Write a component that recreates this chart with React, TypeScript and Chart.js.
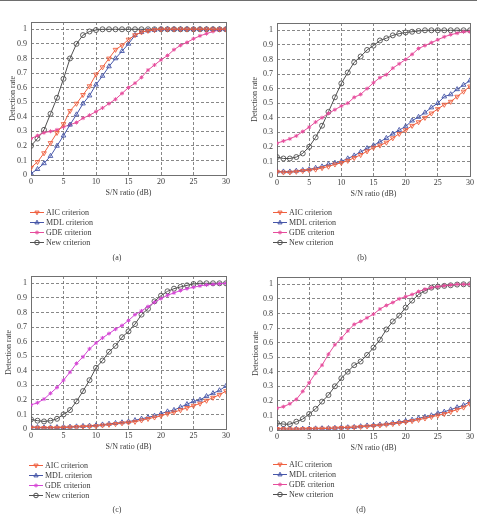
import React, { useEffect, useRef } from 'react';
import { Chart, registerables } from 'chart.js';
Chart.register(...registerables);

const SNR = [0, 1, 2, 3, 4, 5, 6, 7, 8, 9, 10, 11, 12, 13, 14, 15, 16, 17, 18, 19, 20, 21, 22, 23, 24, 25, 26, 27, 28, 29, 30];
const Y_TICKS = [0, 0.1, 0.2, 0.3, 0.4, 0.5, 0.6, 0.7, 0.8, 0.9, 1];
const X_TICKS = [0, 5, 10, 15, 20, 25, 30];
const SERIES_NAMES = ['AIC criterion', 'MDL criterion', 'GDE criterion', 'New criterion'];
const CAPTIONS = ['(a)', '(b)', '(c)', '(d)'];

const A_AIC = [0.05, 0.09, 0.15, 0.22, 0.29, 0.35, 0.44, 0.49, 0.55, 0.61, 0.69, 0.74, 0.8, 0.86, 0.89, 0.93, 0.96, 0.98, 0.99, 0.995, 1, 1, 1, 1, 1, 1, 1, 1, 1, 1, 1];
const A_MDL = [0.01, 0.04, 0.08, 0.13, 0.2, 0.27, 0.345, 0.415, 0.49, 0.545, 0.62, 0.68, 0.745, 0.8, 0.85, 0.9, 0.96, 0.98, 0.99, 0.995, 1, 1, 1, 1, 1, 1, 1, 1, 1, 1, 1];
const A_GDE = [0.25, 0.27, 0.29, 0.3, 0.31, 0.33, 0.345, 0.36, 0.39, 0.41, 0.435, 0.46, 0.49, 0.52, 0.56, 0.6, 0.63, 0.67, 0.72, 0.755, 0.79, 0.82, 0.86, 0.89, 0.91, 0.935, 0.955, 0.97, 0.985, 0.995, 1];
const A_NEW = [0.2, 0.25, 0.31, 0.42, 0.53, 0.66, 0.8, 0.9, 0.96, 0.985, 0.995, 1, 1, 1, 1, 1, 1, 1, 1, 1, 1, 1, 1, 1, 1, 1, 1, 1, 1, 1, 1];

const B_AIC = [0.03, 0.025, 0.025, 0.03, 0.035, 0.04, 0.045, 0.055, 0.065, 0.08, 0.09, 0.105, 0.125, 0.145, 0.17, 0.195, 0.21, 0.23, 0.26, 0.29, 0.315, 0.345, 0.37, 0.4, 0.43, 0.46, 0.49, 0.51, 0.545, 0.58, 0.615];
const B_MDL = [0.03, 0.03, 0.03, 0.035, 0.04, 0.045, 0.055, 0.065, 0.08, 0.09, 0.1, 0.12, 0.14, 0.165, 0.19, 0.21, 0.235, 0.26, 0.29, 0.315, 0.34, 0.38, 0.405, 0.435, 0.47, 0.5, 0.545, 0.56, 0.595, 0.625, 0.655];
const B_GDE = [0.225, 0.24, 0.255, 0.275, 0.305, 0.335, 0.37, 0.4, 0.43, 0.455, 0.48, 0.5, 0.54, 0.56, 0.6, 0.64, 0.675, 0.695, 0.74, 0.77, 0.8, 0.835, 0.875, 0.895, 0.915, 0.935, 0.955, 0.97, 0.98, 0.99, 0.99];
const B_NEW = [0.13, 0.12, 0.12, 0.13, 0.155, 0.2, 0.265, 0.345, 0.44, 0.54, 0.635, 0.71, 0.78, 0.82, 0.865, 0.895, 0.93, 0.945, 0.965, 0.977, 0.985, 0.99, 0.995, 1, 1, 1, 1, 1, 1, 1, 1];

const C_AIC = [0.01, 0.009, 0.008, 0.008, 0.009, 0.01, 0.012, 0.014, 0.016, 0.018, 0.02, 0.025, 0.03, 0.035, 0.04, 0.045, 0.05, 0.06, 0.07, 0.08, 0.09, 0.105, 0.115, 0.13, 0.145, 0.16, 0.175, 0.195, 0.215, 0.235, 0.26];
const C_MDL = [0.015, 0.012, 0.01, 0.01, 0.012, 0.013, 0.015, 0.017, 0.02, 0.022, 0.025, 0.03, 0.035, 0.04, 0.045, 0.05, 0.06, 0.07, 0.08, 0.09, 0.105, 0.12, 0.13, 0.15, 0.17, 0.19, 0.2, 0.225, 0.245, 0.265, 0.295];
const C_GDE = [0.165, 0.18, 0.205, 0.245, 0.285, 0.335, 0.39, 0.45, 0.495, 0.55, 0.59, 0.625, 0.655, 0.685, 0.71, 0.745, 0.785, 0.81, 0.84, 0.87, 0.895, 0.918, 0.934, 0.95, 0.963, 0.973, 0.982, 0.989, 0.993, 0.997, 1];
const C_NEW = [0.066, 0.057, 0.052, 0.057, 0.07, 0.1, 0.13, 0.19, 0.26, 0.335, 0.42, 0.47, 0.53, 0.57, 0.63, 0.67, 0.72, 0.785, 0.825, 0.876, 0.915, 0.945, 0.963, 0.975, 0.986, 0.995, 1, 1, 1, 1, 1];

const D_AIC = [0.008, 0.007, 0.006, 0.006, 0.007, 0.008, 0.009, 0.01, 0.011, 0.013, 0.015, 0.017, 0.019, 0.022, 0.025, 0.028, 0.032, 0.037, 0.042, 0.048, 0.055, 0.062, 0.07, 0.08, 0.09, 0.1, 0.11, 0.125, 0.14, 0.155, 0.18];
const D_MDL = [0.01, 0.008, 0.007, 0.007, 0.008, 0.009, 0.01, 0.011, 0.012, 0.014, 0.016, 0.018, 0.02, 0.025, 0.03, 0.033, 0.037, 0.042, 0.048, 0.055, 0.062, 0.07, 0.08, 0.09, 0.1, 0.115, 0.125, 0.14, 0.155, 0.17, 0.195];
const D_GDE = [0.15, 0.16, 0.18, 0.21, 0.265, 0.325, 0.39, 0.445, 0.52, 0.585, 0.63, 0.68, 0.725, 0.745, 0.77, 0.795, 0.83, 0.855, 0.875, 0.9, 0.915, 0.93, 0.95, 0.966, 0.977, 0.984, 0.99, 0.995, 1, 1, 1];
const D_NEW = [0.048, 0.04, 0.04, 0.057, 0.075, 0.11, 0.145, 0.195, 0.24, 0.3, 0.355, 0.4, 0.445, 0.47, 0.515, 0.565, 0.62, 0.69, 0.745, 0.785, 0.84, 0.888, 0.93, 0.955, 0.977, 0.984, 0.989, 0.993, 0.998, 1, 1];

const FONT = "'Liberation Serif', 'DejaVu Serif', serif";
const TEXT = '#3a3a3a';
const AIC_C = '#ef6040';
const MDL_C = '#4656a8';
const NEW_C = '#505050';

type Panel = {
  left: number; top: number; w: number; h: number;
  plotLeft: number; plotRight: number; plotTop: number; plotBottom: number;
  titleX: number; legX: number; legY: number; capX: number; capY: number;
  series: number[][]; gdeColor: string; caption: string;
};

const PANELS: Panel[] = [
  { left: 0, top: 0, w: 238, h: 262, plotLeft: 31, plotRight: 226, plotTop: 22, plotBottom: 175, titleX: 13, legX: 30, legY: 212, capX: 117, capY: 258, series: [A_AIC, A_MDL, A_GDE, A_NEW], gdeColor: '#e64c9c', caption: CAPTIONS[0] },
  { left: 240, top: 0, w: 237, h: 262, plotLeft: 37, plotRight: 230, plotTop: 23, plotBottom: 176, titleX: 15, legX: 33, legY: 212, capX: 122, capY: 258, series: [B_AIC, B_MDL, B_GDE, B_NEW], gdeColor: '#e64c9c', caption: CAPTIONS[1] },
  { left: 0, top: 262, w: 238, h: 259, plotLeft: 31, plotRight: 226, plotTop: 14, plotBottom: 167, titleX: 9, legX: 29, legY: 203, capX: 117, capY: 248, series: [C_AIC, C_MDL, C_GDE, C_NEW], gdeColor: '#d545d5', caption: CAPTIONS[2] },
  { left: 240, top: 262, w: 237, h: 259, plotLeft: 37, plotRight: 230, plotTop: 15, plotBottom: 168, titleX: 16, legX: 33, legY: 202, capX: 121, capY: 248, series: [D_AIC, D_MDL, D_GDE, D_NEW], gdeColor: '#e64c9c', caption: CAPTIONS[3] },
];

const X_AXIS_H = 22;

function drawMarker(ctx: CanvasRenderingContext2D, style: string, x: number, y: number, r: number, color: string) {
  ctx.save();
  ctx.strokeStyle = color;
  ctx.fillStyle = color;
  ctx.lineWidth = 1;
  ctx.beginPath();
  if (style === 'circle') {
    ctx.arc(x, y, r, 0, Math.PI * 2);
    ctx.stroke();
  } else if (style === 'up' || style === 'down') {
    const s = style === 'up' ? 1 : -1;
    ctx.moveTo(x, y - s * r);
    ctx.lineTo(x + r * 0.9, y + s * r * 0.6);
    ctx.lineTo(x - r * 0.9, y + s * r * 0.6);
    ctx.closePath();
    ctx.stroke();
  } else {
    ctx.moveTo(x - r, y); ctx.lineTo(x + r, y);
    ctx.moveTo(x, y - r); ctx.lineTo(x, y + r);
    const d = r * 0.7;
    ctx.moveTo(x - d, y - d); ctx.lineTo(x + d, y + d);
    ctx.moveTo(x - d, y + d); ctx.lineTo(x + d, y - d);
    ctx.stroke();
  }
  ctx.restore();
}

const decoPlugin = {
  id: 'deco',
  beforeDatasetsDraw(chart: any) {
    const { ctx, chartArea } = chart;
    ctx.save();
    ctx.strokeStyle = '#707070';
    ctx.lineWidth = 1;
    ctx.setLineDash([]);
    ctx.strokeRect(Math.round(chartArea.left) + 0.5, Math.round(chartArea.top) + 0.5, Math.round(chartArea.right - chartArea.left), Math.round(chartArea.bottom - chartArea.top));
    ctx.restore();
  },
  afterDraw(chart: any) {
    const o = chart.options.plugins.deco;
    const { ctx } = chart;
    const styles = ['down', 'up', 'star', 'circle'];
    ctx.save();
    ctx.font = `8px ${FONT}`;
    ctx.textBaseline = 'middle';
    chart.data.datasets.forEach((ds: any, i: number) => {
      const y = o.legY + i * 10;
      ctx.strokeStyle = ds.borderColor;
      ctx.lineWidth = 1;
      ctx.beginPath();
      ctx.moveTo(o.legX, y + 0.5);
      ctx.lineTo(o.legX + 14, y + 0.5);
      ctx.stroke();
      drawMarker(ctx, styles[i], o.legX + 7, y + 0.5, i === 2 ? 2 : 2.3, ds.borderColor);
      ctx.fillStyle = TEXT;
      ctx.textAlign = 'left';
      ctx.fillText(ds.label, o.legX + 16, y + 0.5);
    });
    ctx.textAlign = 'center';
    ctx.fillText(o.caption, o.capX, o.capY);
    ctx.restore();
  },
};

function PanelChart({ p }: { p: Panel }) {
  const ref = useRef<HTMLCanvasElement>(null);
  useEffect(() => {
    if (!ref.current) return;
    const colors = [AIC_C, MDL_C, p.gdeColor, NEW_C];
    const pointStyles: any[] = ['triangle', 'triangle', 'star', 'circle'];
    const rotations = [180, 0, 0, 0];
    const radii = [2.7, 2.7, 2, 2.5];
    const chart = new Chart(ref.current, {
      type: 'line',
      data: {
        datasets: SERIES_NAMES.map((name, i) => ({
          label: name,
          data: SNR.map((x, j) => ({ x, y: p.series[i][j] })),
          borderColor: colors[i],
          backgroundColor: 'rgba(255,255,255,0)',
          pointBorderColor: colors[i],
          pointBackgroundColor: 'rgba(255,255,255,0)',
          borderWidth: 1,
          pointBorderWidth: 0.9,
          pointStyle: pointStyles[i],
          pointRotation: rotations[i],
          pointRadius: radii[i],
          tension: 0,
        })),
      },
      options: {
        responsive: false,
        animation: false,
        events: [],
        layout: { padding: { left: 0, top: p.plotTop, right: p.w - p.plotRight, bottom: p.h - p.plotBottom - X_AXIS_H } },
        plugins: {
          legend: { display: false },
          tooltip: { enabled: false },
          deco: { legX: p.legX, legY: p.legY, capX: p.capX, capY: p.capY, caption: p.caption },
        } as any,
        scales: {
          x: {
            type: 'linear',
            min: 0,
            max: 30,
            afterFit: (s: any) => { s.height = X_AXIS_H; },
            afterBuildTicks: (s: any) => { s.ticks = X_TICKS.map((v) => ({ value: v })); },
            ticks: { padding: 2, color: TEXT, font: { family: FONT, size: 8 }, maxRotation: 0 },
            grid: { color: '#6a6a6a', lineWidth: 0.8, drawTicks: false },
            border: { display: false, dash: [3, 2] },
            title: { display: true, text: 'S/N ratio (dB)', color: TEXT, font: { family: FONT, size: 8, lineHeight: 1 }, padding: { top: 0, bottom: 0 } },
          },
          y: {
            type: 'linear',
            min: 0,
            max: 1.05,
            afterFit: (s: any) => { s.width = p.plotLeft; },
            afterBuildTicks: (s: any) => { s.ticks = Y_TICKS.map((v) => ({ value: v })); },
            ticks: { padding: 4, color: TEXT, font: { family: FONT, size: 8 }, callback: (v: any) => String(+(+v).toFixed(1)) },
            grid: { color: '#6a6a6a', lineWidth: 0.8, drawTicks: false },
            border: { display: false, dash: [3, 2] },
            title: { display: true, text: 'Detection rate', color: TEXT, font: { family: FONT, size: 8, lineHeight: 1 }, padding: { top: p.titleX - 4, bottom: 0 } },
          },
        },
      },
      plugins: [decoPlugin],
    });
    return () => chart.destroy();
  }, [p]);
  return (
    <canvas
      ref={ref}
      width={p.w}
      height={p.h}
      style={{ position: 'absolute', left: p.left, top: p.top, width: p.w, height: p.h }}
    />
  );
}

export default function App() {
  return (
    <div style={{ position: 'fixed', left: 0, top: 0, width: 477, height: 521, background: '#fff', overflow: 'hidden' }}>
      <div style={{ position: 'absolute', left: 0, top: 0, width: 477, height: 1, background: '#6e6e6e' }} />
      {PANELS.map((p, i) => <PanelChart key={i} p={p} />)}
    </div>
  );
}
